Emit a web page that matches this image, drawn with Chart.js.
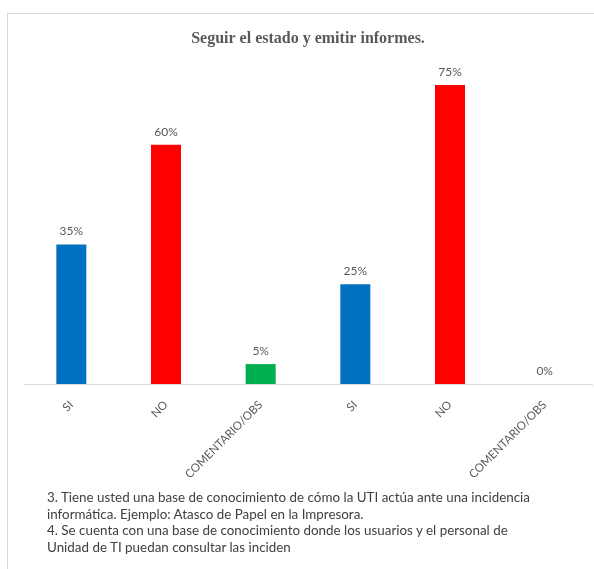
<!DOCTYPE html>
<html>
<head>
<meta charset="utf-8">
<script src="https://cdn.jsdelivr.net/npm/chart.js@4/dist/chart.umd.min.js"></script>
<style>
  html, body { margin: 0; padding: 0; background: #fff; }
  #wrap { position: relative; width: 594px; height: 569px; overflow: hidden; }
  #frame { position: absolute; left: 7px; top: 13px; width: 600px; height: 600px;
           border-left: 1px solid #d9d9d9; border-top: 1px solid #d9d9d9; box-sizing: border-box; }
  #chart { position: absolute; left: 0; top: 0; }
  #notes { position: absolute; left: 47px; top: 489px; font-family: Lato, "Open Sans", sans-serif;
           font-size: 13.4px; line-height: 16.7px; color: #404040; white-space: nowrap; }
</style>
</head>
<body>
<div id="wrap">
  <div id="frame"></div>
  <canvas id="chart" width="594" height="569"></canvas>
  <div id="notes">
    3. Tiene usted una base de conocimiento de cómo la UTI actúa ante una incidencia<br>
    informática. Ejemplo: Atasco de Papel en la Impresora.<br>
    4. Se cuenta con una base de conocimiento donde los usuarios y el personal de<br>
    Unidad de TI puedan consultar las inciden
  </div>
</div>
<script>
// Respuestas por categoría (porcentaje)
const categories = ['SI', 'NO', 'COMENTARIO/OBS', 'SI', 'NO', 'COMENTARIO/OBS'];
const percentages = [35, 60, 5, 25, 75, 0];
const barColors = ['#0070C0', '#FF0000', '#00B050', '#0070C0', '#FF0000', '#00B050'];
const chartTitle = 'Seguir el estado y emitir informes.';

// Etiqueta de valor encima de cada barra
const valueLabels = {
  id: 'valueLabels',
  afterDatasetsDraw(chart) {
    const ctx = chart.ctx;
    const meta = chart.getDatasetMeta(0);
    ctx.save();
    ctx.font = '12px Lato, "Open Sans", sans-serif';
    ctx.fillStyle = '#595959';
    ctx.textAlign = 'center';
    ctx.textBaseline = 'bottom';
    meta.data.forEach((bar, i) => {
      ctx.fillText(percentages[i] + '%', bar.x, bar.y - 7);
    });
    ctx.restore();
  }
};

new Chart(document.getElementById('chart'), {
  type: 'bar',
  data: {
    labels: categories,
    datasets: [{
      data: percentages,
      backgroundColor: barColors,
      borderWidth: 0,
      barPercentage: 0.317,
      categoryPercentage: 1
    }]
  },
  options: {
    responsive: false,
    animation: false,
    layout: { padding: { left: 24, right: 2, top: 0, bottom: 0 } },
    plugins: {
      legend: { display: false },
      tooltip: { enabled: false },
      title: {
        display: true,
        text: chartTitle,
        color: '#595959',
        font: { family: '"Liberation Serif", "Times New Roman", serif', size: 16, weight: 'bold' },
        padding: { top: 29, bottom: 36.8 }
      }
    },
    scales: {
      y: { display: false, min: 0, max: 75 },
      x: {
        grid: { display: false },
        border: { display: true, color: '#d9d9d9', width: 1 },
        ticks: {
          color: '#595959',
          font: { family: 'Lato, "Open Sans", sans-serif', size: 11.5 },
          minRotation: 45,
          maxRotation: 45,
          autoSkip: false,
          padding: 6
        },
        afterFit(scale) { scale.height = 569 - 384; }
      }
    }
  },
  plugins: [valueLabels]
});
</script>
</body>
</html>
